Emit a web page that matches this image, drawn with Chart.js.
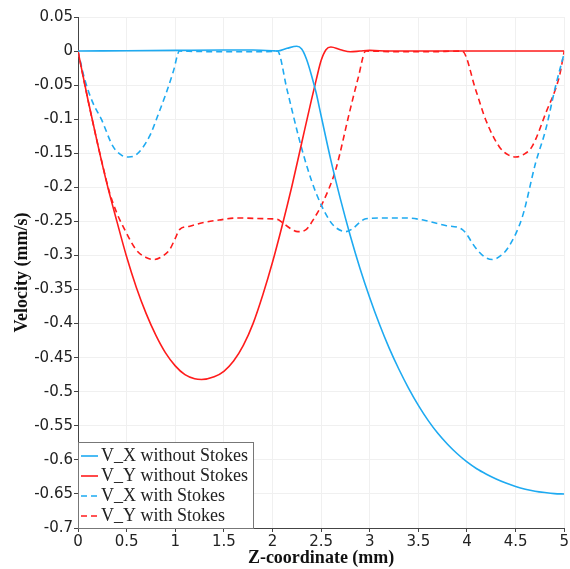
<!DOCTYPE html>
<html>
<head>
<meta charset="utf-8">
<script src="https://cdn.jsdelivr.net/npm/chart.js@4.4.1/dist/chart.umd.min.js"></script>
<style>
  html, body { margin: 0; padding: 0; background: #fff; }
</style>
</head>
<body>
<canvas id="velocityChart" width="570" height="569"></canvas>
<script>
// --- data ---
const zVxPlain = [0, 0.5, 1.0, 1.5, 1.8, 2.0, 2.05, 2.15, 2.25, 2.3, 2.35, 2.4, 2.45, 2.5, 2.6, 2.7, 2.8, 2.9, 3.0, 3.1, 3.2, 3.3, 3.4, 3.5, 3.6, 3.7, 3.8, 3.9, 4.0, 4.1, 4.2, 4.3, 4.4, 4.5, 4.6, 4.7, 4.8, 4.9, 5.0];
const vxPlain = [0, 0.0005, 0.001, 0.0015, 0.0015, 0.0005, 0, 0.004, 0.007, 0.003, -0.012, -0.035, -0.062, -0.095, -0.160, -0.218, -0.271, -0.319, -0.362, -0.401, -0.436, -0.467, -0.495, -0.520, -0.542, -0.561, -0.577, -0.591, -0.603, -0.613, -0.621, -0.628, -0.634, -0.639, -0.643, -0.646, -0.648, -0.6495, -0.650];

const zVyPlain = [0, 0.1, 0.2, 0.3, 0.4, 0.5, 0.6, 0.7, 0.8, 0.9, 1.0, 1.1, 1.2, 1.27, 1.4, 1.5, 1.6, 1.7, 1.8, 1.9, 2.0, 2.1, 2.2, 2.3, 2.4, 2.45, 2.5, 2.55, 2.6, 2.7, 2.8, 2.9, 3.0, 3.2, 4.0, 5.0];
const vyPlain = [0, -0.07, -0.135, -0.196, -0.25, -0.302, -0.347, -0.385, -0.417, -0.443, -0.462, -0.475, -0.481, -0.482, -0.478, -0.470, -0.455, -0.432, -0.400, -0.358, -0.310, -0.256, -0.198, -0.135, -0.072, -0.042, -0.014, 0.002, 0.006, 0.002, -0.001, 0, 0.001, 0, 0, 0];

const zVxStokes = [0, 0.07, 0.15, 0.24, 0.36, 0.45, 0.52, 0.6, 0.736, 0.82, 0.907, 0.98, 1.044, 1.2, 1.5, 1.8, 2.0, 2.05, 2.15, 2.276, 2.36, 2.447, 2.584, 2.66, 2.755, 2.83, 2.892, 2.96, 3.2, 3.37, 3.55, 3.78, 3.953, 4.09, 4.18, 4.26, 4.35, 4.43, 4.57, 4.706, 4.81, 4.91, 5.0];
const vxStokes = [0, -0.042, -0.075, -0.10, -0.14, -0.153, -0.1555, -0.152, -0.125, -0.095, -0.0615, -0.03, 0, -0.0005, -0.001, -0.001, -0.0005, 0, -0.057, -0.130, -0.172, -0.208, -0.248, -0.26, -0.265, -0.26, -0.252, -0.246, -0.245, -0.245, -0.248, -0.256, -0.262, -0.289, -0.302, -0.306, -0.300, -0.287, -0.243, -0.164, -0.115, -0.052, -0.003];

const zVyStokes = [0, 0.1, 0.2, 0.256, 0.325, 0.4, 0.48, 0.6, 0.7, 0.787, 0.87, 0.94, 1.0, 1.044, 1.15, 1.28, 1.45, 1.626, 1.93, 2.05, 2.105, 2.18, 2.26, 2.345, 2.43, 2.515, 2.65, 2.79, 2.88, 2.96, 3.3, 3.6, 3.95, 4.09, 4.19, 4.33, 4.42, 4.5, 4.58, 4.67, 4.81, 4.95, 5.0];
const vyStokes = [0, -0.07, -0.135, -0.169, -0.208, -0.238, -0.262, -0.292, -0.303, -0.306, -0.301, -0.292, -0.275, -0.262, -0.257, -0.252, -0.248, -0.245, -0.246, -0.247, -0.252, -0.26, -0.265, -0.262, -0.245, -0.223, -0.174, -0.091, -0.04, 0, -0.001, -0.001, 0, -0.057, -0.10, -0.14, -0.152, -0.1555, -0.152, -0.14, -0.091, -0.037, 0];

const seriesLabels = ["V_X without Stokes", "V_Y without Stokes", "V_X with Stokes", "V_Y with Stokes"];

const BLUE = "#1eaaf1";
const RED = "#ff1c1c";

function toPoints(xs, ys) {
  return xs.map((x, i) => ({ x: x, y: ys[i] }));
}

function makeSet(label, xs, ys, color, dashed) {
  return {
    label: label,
    data: toPoints(xs, ys),
    borderColor: color,
    backgroundColor: color,
    borderWidth: 1.6,
    borderDash: dashed ? [6, 4] : [],
    pointRadius: 0,
    cubicInterpolationMode: "monotone",
    fill: false,
  };
}

// legend drawn inside the plot, bottom-left, like the original
const insideLegend = {
  id: "insideLegend",
  afterDatasetsDraw(chart) {
    const ctx = chart.ctx;
    const area = chart.chartArea;
    const sets = chart.data.datasets;
    ctx.save();
    ctx.font = "18px 'Liberation Serif', serif";
    let maxW = 0;
    sets.forEach((ds) => { maxW = Math.max(maxW, ctx.measureText(ds.label).width); });
    const rowH = 20;
    const boxW = 3 + 17 + 4 + maxW + 5;
    const boxH = rowH * sets.length + 6;
    const x0 = area.left;
    const y0 = area.bottom - boxH;
    ctx.fillStyle = "#fff";
    ctx.fillRect(x0, y0, boxW, boxH);
    ctx.strokeStyle = "#777";
    ctx.lineWidth = 1;
    ctx.strokeRect(x0 + 0.5, y0 + 0.5, boxW - 1, boxH);
    sets.forEach((ds, i) => {
      const cy = y0 + 4 + rowH * i + rowH / 2;
      ctx.beginPath();
      ctx.setLineDash(ds.borderDash || []);
      ctx.strokeStyle = ds.borderColor;
      ctx.lineWidth = 1.6;
      ctx.moveTo(x0 + 3, cy);
      ctx.lineTo(x0 + 20, cy);
      ctx.stroke();
      ctx.setLineDash([]);
      ctx.fillStyle = "#222";
      ctx.textBaseline = "middle";
      ctx.textAlign = "left";
      ctx.fillText(ds.label, x0 + 23, cy);
    });
    ctx.restore();
  },
};

const ctx = document.getElementById("velocityChart").getContext("2d");
new Chart(ctx, {
  type: "line",
  data: {
    datasets: [
      makeSet(seriesLabels[0], zVxPlain, vxPlain, BLUE, false),
      makeSet(seriesLabels[1], zVyPlain, vyPlain, RED, false),
      makeSet(seriesLabels[2], zVxStokes, vxStokes, BLUE, true),
      makeSet(seriesLabels[3], zVyStokes, vyStokes, RED, true),
    ],
  },
  options: {
    responsive: false,
    animation: false,
    layout: { padding: { top: 17, right: 5, left: 0, bottom: 0 } },
    plugins: {
      legend: { display: false },
      tooltip: { enabled: false },
    },
    scales: {
      x: {
        type: "linear",
        min: 0,
        max: 5,
        afterFit(scale) { scale.height = 41; },
        ticks: {
          stepSize: 0.5,
          padding: 1,
          maxRotation: 0,
          color: "#222",
          font: { family: "'DejaVu Sans', sans-serif", size: 15 },
          callback: (v) => String(Number(v.toFixed(2))),
        },
        grid: { color: "#f0f0f0", tickColor: "#444", tickLength: 4 },
        border: { color: "#444", width: 1 },
        title: {
          display: true,
          text: "Z-coordinate (mm)",
          color: "#111",
          padding: { top: 0, bottom: 0 },
          font: { family: "'Liberation Serif', serif", size: 18, weight: "bold" },
        },
      },
      y: {
        min: -0.7,
        max: 0.05,
        afterFit(scale) { scale.width = 78; },
        ticks: {
          stepSize: 0.05,
          padding: 1,
          color: "#222",
          font: { family: "'DejaVu Sans', sans-serif", size: 15 },
          callback: (v) => String(Number(v.toFixed(2))),
        },
        grid: { color: "#f0f0f0", tickColor: "#444", tickLength: 4 },
        border: { color: "#444", width: 1 },
        title: {
          display: true,
          text: "Velocity (mm/s)",
          color: "#111",
          padding: { top: 12, bottom: 0 },
          font: { family: "'Liberation Serif', serif", size: 18, weight: "bold" },
        },
      },
    },
  },
  plugins: [insideLegend],
});
</script>
</body>
</html>
